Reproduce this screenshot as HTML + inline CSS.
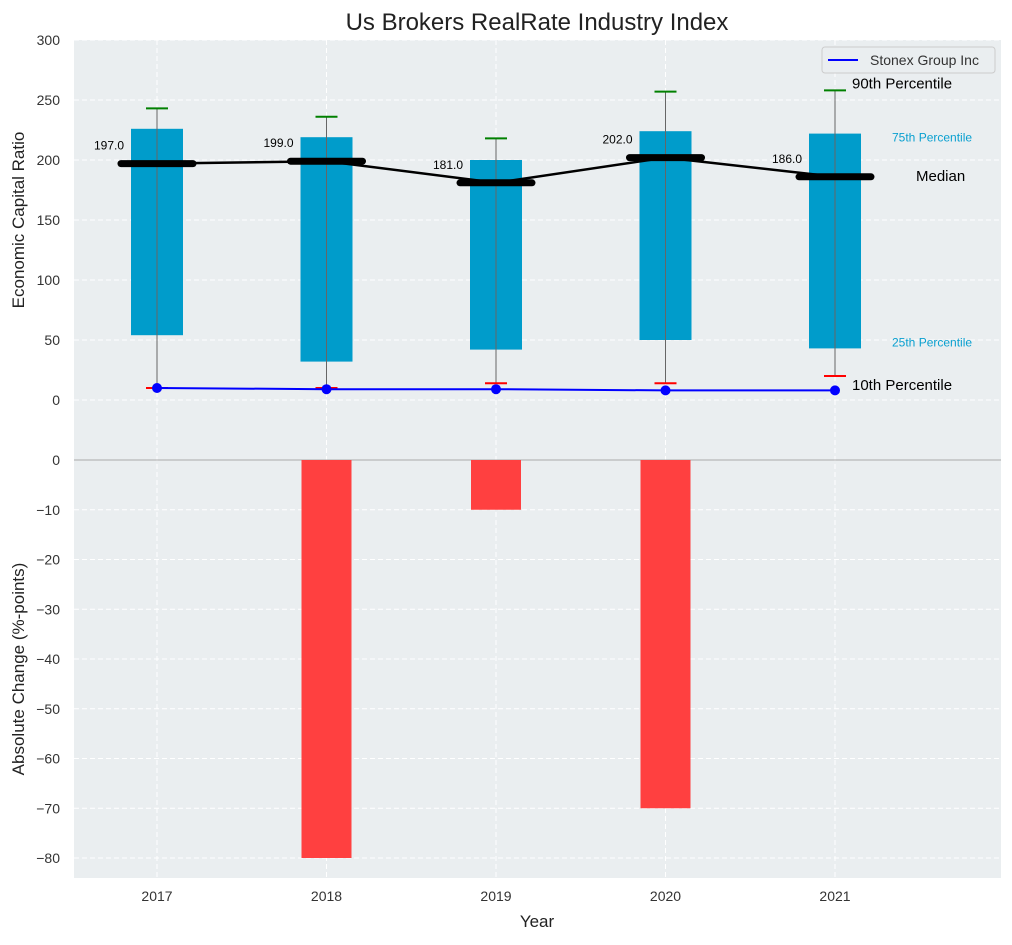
<!DOCTYPE html>
<html><head><meta charset="utf-8"><style>
body{margin:0;background:#fff;font-family:"Liberation Sans",sans-serif}
svg text{font-family:"Liberation Sans",sans-serif}
</style></head><body>
<svg id="c" width="1012" height="940" xmlns="http://www.w3.org/2000/svg"></svg>
<script>
const years=[2017,2018,2019,2020,2021];
const p10=[10,10,14,14,20];
const p25=[54,32,42,50,43];
const medians=[197,199,181,202,186];
const p75=[226,219,200,224,222];
const p90=[243,236,218,257,258];
const company=[10,9,9,8,8];
const changes=[0,-80,-10,-70,0];
const topTicks=[0,50,100,150,200,250,300];
const botTicks=[0,-10,-20,-30,-40,-50,-60,-70,-80];

const L=74,R=1001;
const x=v=>157+(v-2017)*169.5;
const yT=v=>400-v*1.2;
const yB=v=>460-v*4.975;
const svg=document.getElementById('c');
const NS='http://www.w3.org/2000/svg';
function mk(t,a,txt){const e=document.createElementNS(NS,t);for(const k in a)e.setAttribute(k,a[k]);if(txt!=null)e.textContent=txt;svg.appendChild(e);return e;}

let e;
e=mk('rect',{x:L,y:40,width:R-L,height:420,fill:'#eaeef0'});


e=mk('rect',{x:L,y:460,width:R-L,height:418,fill:'#eaeef0'});


topTicks.concat([-50]).forEach(t=>{mk('line',{x1:L,x2:R,y1:yT(t),y2:yT(t),stroke:'#fff','stroke-dasharray':'5,3','stroke-width':1});});
botTicks.forEach(t=>{mk('line',{x1:L,x2:R,y1:yB(t),y2:yB(t),stroke:'#fff','stroke-dasharray':'5,3','stroke-width':1});});
years.forEach(yr=>{mk('line',{x1:x(yr),x2:x(yr),y1:40,y2:878,stroke:'#fff','stroke-dasharray':'5,3','stroke-width':1});});
mk('line',{x1:L,x2:R,y1:460,y2:460,stroke:'#aaa','stroke-width':1});
topTicks.forEach(t=>{e=mk('text',{x:60,y:yT(t)+5,'text-anchor':'end','font-size':14,fill:'#333'},t);

});
botTicks.forEach(t=>{e=mk('text',{x:60,y:yB(t)+5,'text-anchor':'end','font-size':14,fill:'#333'},t===0?'0':'\u2212'+(-t));

});
years.forEach(yr=>{e=mk('text',{x:x(yr),y:901,'text-anchor':'middle','font-size':14,fill:'#333'},yr);

});
years.forEach((yr,i)=>{
 e=mk('rect',{x:x(yr)-26,y:yT(p75[i]),width:52,height:yT(p25[i])-yT(p75[i]),fill:'#009ccb'});
 
 
 e=mk('line',{x1:x(yr),x2:x(yr),y1:yT(p10[i]),y2:yT(p90[i]),stroke:'#666','stroke-width':1});
 
 
 mk('line',{x1:x(yr)-11,x2:x(yr)+11,y1:yT(p90[i]),y2:yT(p90[i]),stroke:'green','stroke-width':2});
 mk('line',{x1:x(yr)-11,x2:x(yr)+11,y1:yT(p10[i]),y2:yT(p10[i]),stroke:'red','stroke-width':2});
 if(changes[i]!==0){
  e=mk('rect',{x:x(yr)-25,y:yB(0),width:50,height:yB(changes[i])-yB(0),fill:'#ff4040'});
  
  
 }
});
e=mk('polyline',{points:years.map((yr,i)=>x(yr)+','+yT(medians[i])).join(' '),fill:'none',stroke:'#000','stroke-width':2.5});


years.forEach((yr,i)=>{
 e=mk('line',{x1:x(yr)-36,x2:x(yr)+36,y1:yT(medians[i]),y2:yT(medians[i]),stroke:'#000','stroke-width':7,'stroke-linecap':'round'});
 
 
 e=mk('text',{x:x(yr)-33,y:yT(medians[i])-14,'text-anchor':'end','font-size':12,fill:'#000'},medians[i].toFixed(1));
 
 
});
e=mk('polyline',{points:years.map((yr,i)=>x(yr)+','+yT(company[i])).join(' '),fill:'none',stroke:'blue','stroke-width':2});


years.forEach((yr,i)=>{e=mk('circle',{cx:x(yr),cy:yT(company[i]),r:5,fill:'blue'});

});
const li=4;
e=mk('text',{x:852,y:yT(p90[li])-2,'font-size':15,fill:'#000'},'90th Percentile');


e=mk('text',{x:892,y:yT(p75[li])+8,'font-size':12,fill:'#0aa0d0'},'75th Percentile');


e=mk('text',{x:916,y:yT(medians[li])+4,'font-size':15,fill:'#000'},'Median');


e=mk('text',{x:892,y:yT(p25[li])-2,'font-size':12,fill:'#0aa0d0'},'25th Percentile');


e=mk('text',{x:852,y:yT(p10[li])+14,'font-size':15,fill:'#000'},'10th Percentile');


e=mk('rect',{x:822,y:47,width:173,height:26,rx:3,fill:'#eaeef0',stroke:'#ccc'});


mk('line',{x1:828,x2:858,y1:60,y2:60,stroke:'blue','stroke-width':2});
e=mk('text',{x:870,y:65,'font-size':14,fill:'#333'},'Stonex Group Inc');


e=mk('text',{x:537,y:30,'text-anchor':'middle','font-size':24,fill:'#222'},'Us Brokers RealRate Industry Index');


e=mk('text',{x:537,y:927,'text-anchor':'middle','font-size':17,fill:'#222'},'Year');


e=mk('text',{x:24,y:220,'text-anchor':'middle','font-size':17,fill:'#222',transform:'rotate(-90 24 220)'},'Economic Capital Ratio');


e=mk('text',{x:24,y:669,'text-anchor':'middle','font-size':17,fill:'#222',transform:'rotate(-90 24 669)'},'Absolute Change (%-points)');


</script>
</body></html>
